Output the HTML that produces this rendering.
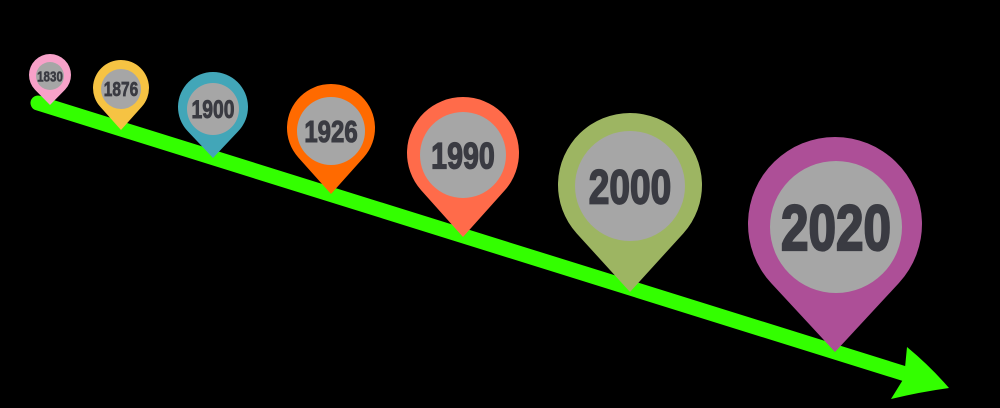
<!DOCTYPE html>
<html><head><meta charset="utf-8"><style>
html,body{margin:0;padding:0;background:#000;width:1000px;height:408px;overflow:hidden}
text{font-family:"Liberation Sans Narrow","Liberation Sans",sans-serif;font-weight:bold;fill:#3a3b42;stroke:#3a3b42}
</style></head><body>
<svg id="s" width="1000" height="408" viewBox="0 0 1000 408" xmlns="http://www.w3.org/2000/svg">
<rect width="1000" height="408" fill="#000"/>
<line x1="38" y1="103" x2="912" y2="376" stroke="#33ff00" stroke-width="15" stroke-linecap="round"/>
<path d="M907,347 Q930,366 949,388 Q920,392 891,399 L904,378 Z" fill="#33ff00"/>
<g id="pins"></g>
</svg>
<script>
var pins=[
[50,75,21,105,"#f7a1c9",50,76,14,"1830",15],
[121,88,28,130,"#f6c343",121,89,20,"1876",20],
[213,107,35,158,"#42a6b8",213,109,26,"1900",25],
[331,128,44,194,"#ff6a00",331,131,34,"1926",31],
[463,153,56,237,"#ff6b4a",463,155,43,"1990",37],
[630,185,72,292,"#9db562",630,186,55,"2000",48],
[835,224,87,352,"#ad4f97",836,227,66,"2020",64]];
var g=document.getElementById('pins'),h='';
pins.forEach(function(p){
var cx=p[0],cy=p[1],r=p[2],ty=p[3],d=ty-cy,t=Math.acos(r/d);
var sx=r*Math.sin(t),sy=r*Math.cos(t);
h+='<path d="M'+cx+','+ty+' L'+(cx+sx)+','+(cy+sy)+' A'+r+','+r+' 0 1 0 '+(cx-sx)+','+(cy+sy)+' Z" fill="'+p[4]+'"/>';
h+='<circle cx="'+p[5]+'" cy="'+p[6]+'" r="'+p[7]+'" fill="#a6a6a6"/>';
h+='<text x="'+p[5]+'" y="'+(p[6]+p[9]*0.36)+'" font-size="'+p[9]+'" stroke-width="'+(p[9]/28)+'" text-anchor="middle" textLength="'+(p[9]*1.72)+'" lengthAdjust="spacingAndGlyphs">'+p[8]+'</text>';
});
g.innerHTML=h;
</script>
</body></html>
